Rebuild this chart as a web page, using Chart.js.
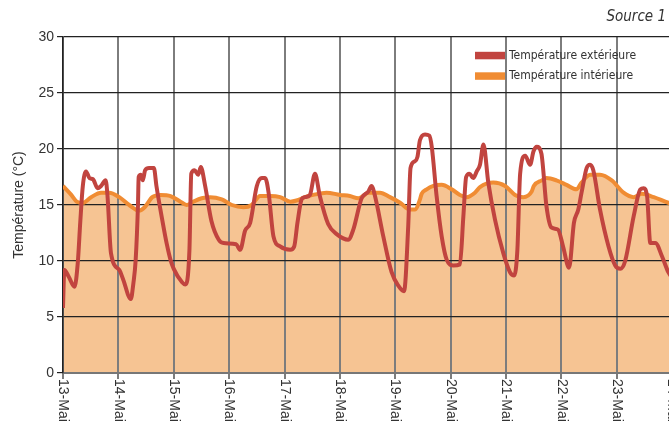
<!DOCTYPE html>
<html lang="fr">
<head>
<meta charset="utf-8">
<script src="https://cdn.jsdelivr.net/npm/chart.js@4"></script>
<style>
  html, body { margin: 0; padding: 0; background: #fff; overflow: hidden; }
  #wrap { width: 669px; height: 422px; }
</style>
</head>
<body>
<div id="wrap"><canvas id="chart" width="669" height="422"></canvas></div>
<script>
// jours affichés sur l'axe x (une graduation toutes les 24 h)
const jours = ['13-Mai', '14-Mai', '15-Mai', '16-Mai', '17-Mai', '18-Mai',
               '19-Mai', '20-Mai', '21-Mai', '22-Mai', '23-Mai', '24-Mai'];
const yTicks = [0, 5, 10, 15, 20, 25, 30];
const legende = ['Température extérieure', 'Température intérieure'];
const source = 'Source 1';
const xMax = 262.6; // le graphique est coupé juste avant le 24-Mai

// température extérieure (heures depuis le 13-Mai 0h, °C)
const heuresExt = [0, 0.6, 2.5, 5, 6.4, 7.5, 8.6, 10, 11.5, 13, 15, 16.5, 18.5, 19.3, 20.8, 24.4,
  26, 29.4, 30.5, 31.5, 32.5, 32.8, 33.7, 34.6, 35.6, 37.3, 39.4, 40.5, 43, 45, 46.6, 48,
  51.6, 53, 54.8, 55.6, 57, 58.6, 59.7, 61.6, 64.3, 67.5, 69.6, 75, 76.8, 78.9, 81.1, 84,
  86.2, 87.6, 89.1, 91.2, 94.1, 98.5, 100.2, 101.6, 103.4, 104.8, 107, 109.2, 111.3, 114.9,
  118.6, 123.6, 125.8, 129.4, 132.3, 133.7, 135.2, 138.8, 142.4, 145.3, 147.8, 149.6, 150.6,
  152.5, 153.6, 154.7, 156.9, 158.7, 159.8, 161.9, 164.1, 166.3, 169.2, 172, 173.5, 174.7,
  176.1, 177.8, 179.3, 180.7, 182.2, 184.3, 187.2, 190.8, 193.7, 195.5, 196.9, 198.1, 200.3,
  202.4, 203.9, 205.3, 207.3, 209.5, 211.6, 214.5, 216.7, 219.3, 221.4, 223.3, 224.7, 226.9,
  228.4, 229.8, 232.7, 236.4, 239.3, 241.5, 243.6, 247.3, 250.2, 251.6, 253.1, 254.5, 256.7,
  259.6, 262.3, 264];
const tempExt = [5.8, 9.2, 8.6, 7.7, 9.8, 13.5, 16.7, 18.0, 17.4, 17.3, 16.5, 16.7, 17.2, 15.8, 10.7, 9.2,
  8.4, 6.6, 8.0, 10.1, 15.0, 17.5, 17.7, 17.2, 18.1, 18.3, 18.3, 16.7, 13.7, 11.5, 10.1, 9.3,
  8.1, 7.9, 11.0, 17.8, 18.1, 17.7, 18.4, 16.7, 13.6, 11.9, 11.6, 11.5, 11.0, 12.7, 13.4, 16.7,
  17.4, 17.4, 16.1, 12.2, 11.3, 11.0, 11.3, 13.4, 15.5, 15.7, 15.9, 17.8, 15.8, 13.3,
  12.4, 11.9, 12.8, 15.6, 16.2, 16.7, 15.8, 12.2, 9.0, 7.8, 7.3, 13.1, 18.3,
  18.9, 19.3, 20.8, 21.3, 21.2, 20.2, 15.8, 12.2, 10.1, 9.6, 9.7, 14.0, 17.5,
  17.8, 17.4, 18.0, 18.6, 20.4, 17.0, 13.7, 10.7, 9.0, 8.7, 11.0, 17.8, 19.4,
  18.6, 19.8, 20.2, 19.6, 14.9, 13.0, 12.8, 11.3, 9.4, 13.4, 14.6, 16.1, 18.3,
  18.6, 18.1, 14.6, 11.3, 9.6, 9.3, 10.0, 14.0, 16.4, 16.5, 15.8, 11.6, 11.6,
  10.4, 9.0, 8.5];

// température intérieure
const heuresInt = [0, 3.6, 6, 8.6, 12.2, 16.5, 20, 24.4, 28.7, 33, 35.4, 38.7, 42.3, 46.6, 50.9,
  53.6, 56.5, 60.1, 63.8, 68.8, 73.2, 78.2, 81.8, 85.4, 89.8, 94.1, 98.5, 101.2, 104.8, 108.4,
  114.2, 120, 124.3, 128, 130.1, 132.3, 137.4, 141.7, 146.1, 150.4, 152.5, 154.7, 155.4, 157.6,
  160.5, 164.1, 168.4, 172, 174.9, 178.5, 180.7, 186.5, 191.6, 195.9, 199.5, 203.1, 204, 207.5,
  209.5, 213.8, 218.2, 222.5, 224.7, 228.4, 232.7, 237.8, 242.9, 247.3, 250.9, 256, 262.3, 264];
const tempInt = [16.7, 15.9, 15.3, 15.2, 15.7, 16.1, 16.1, 15.7, 15.0, 14.5, 14.8, 15.7, 15.9, 15.8, 15.3,
  15.0, 15.3, 15.6, 15.7, 15.5, 15.0, 14.8, 15.0, 15.8, 15.8, 15.7, 15.3, 15.4, 15.7, 15.9,
  16.1, 15.9, 15.8, 15.6, 15.8, 16.1, 16.1, 15.7, 15.2, 14.6, 14.6, 15.5, 16.0, 16.4,
  16.7, 16.8, 16.4, 15.9, 15.7, 16.1, 16.6, 17.0, 16.7, 15.9, 15.7, 16.2, 16.7, 17.2,
  17.4, 17.2, 16.8, 16.4, 17.0, 17.7, 17.7, 17.2, 16.1, 15.7, 16.0, 15.7, 15.2, 15.1];

const ROUGE = '#c1443f';
const ORANGE = '#f08c33';
const REMPLI = '#f6c493';
const police = '"Liberation Sans", Arial, sans-serif';
const policeEtroite = '"Liberation Sans Narrow", "DejaVu Sans Condensed", "Liberation Sans", sans-serif';

// étiquettes x tournées vers la droite, légende et source
const decor = {
  id: 'decor',
  afterDraw(chart) {
    const { ctx, chartArea } = chart;
    const x = chart.scales.x;
    ctx.save();
    ctx.fillStyle = '#333';
    ctx.font = '14px ' + police;
    ctx.textAlign = 'left';
    ctx.textBaseline = 'middle';
    jours.forEach((j, i) => {
      const px = x.getPixelForValue(i * 24);
      ctx.save();
      ctx.translate(px, chartArea.bottom + 6);
      ctx.rotate(Math.PI / 2);
      ctx.fillText(j, 0, 0);
      ctx.restore();
    });

    const couleurs = [ROUGE, ORANGE];
    ctx.font = '12px ' + policeEtroite;
    legende.forEach((txt, i) => {
      const y = 55.5 + i * 20.5;
      ctx.fillStyle = couleurs[i];
      ctx.fillRect(475, y - 3.7, 30, 7.5);
      ctx.fillStyle = '#333';
      ctx.fillText(txt, 509, y);
    });

    ctx.font = 'italic 15px ' + policeEtroite;
    ctx.textAlign = 'right';
    ctx.fillText(source, 666, 17);
    ctx.restore();
  }
};

new Chart(document.getElementById('chart'), {
  type: 'line',
  data: {
    datasets: [{
      label: legende[0],
      data: heuresExt.map((h, i) => ({ x: h, y: tempExt[i] })),
      borderColor: ROUGE,
      borderWidth: 4,
      pointRadius: 0,
      cubicInterpolationMode: 'monotone',
      fill: false,
      order: 1
    }, {
      label: legende[1],
      data: heuresInt.map((h, i) => ({ x: h, y: tempInt[i] })),
      borderColor: ORANGE,
      backgroundColor: REMPLI,
      borderWidth: 4,
      pointRadius: 0,
      cubicInterpolationMode: 'monotone',
      fill: 'origin',
      order: 2
    }]
  },
  options: {
    responsive: false,
    animation: false,
    layout: { padding: { left: 10.6, top: 37, right: 0, bottom: 43 } },
    plugins: {
      legend: { display: false },
      tooltip: { enabled: false },
      filler: { drawTime: 'beforeDraw' }
    },
    scales: {
      x: {
        type: 'linear',
        min: 0,
        max: xMax,
        afterBuildTicks: s => { s.ticks = jours.map((j, i) => ({ value: i * 24 })).filter(t => t.value <= xMax); },
        ticks: { display: false },
        grid: { color: '#7d7d7d', lineWidth: 2, tickLength: 6 },
        border: { color: '#777', width: 2 }
      },
      y: {
        min: 0,
        max: 30,
        afterBuildTicks: s => { s.ticks = yTicks.map(v => ({ value: v })); },
        ticks: { color: '#333', font: { size: 14, family: police }, padding: 3 },
        grid: { color: '#222', lineWidth: 1.2, tickLength: 6 },
        border: { color: '#222', width: 1.5 },
        title: {
          display: true,
          text: 'Température (°C)',
          color: '#333',
          font: { size: 14, family: police },
          padding: { top: 0, bottom: 8 }
        }
      }
    }
  },
  plugins: [decor]
});
</script>
</body>
</html>
